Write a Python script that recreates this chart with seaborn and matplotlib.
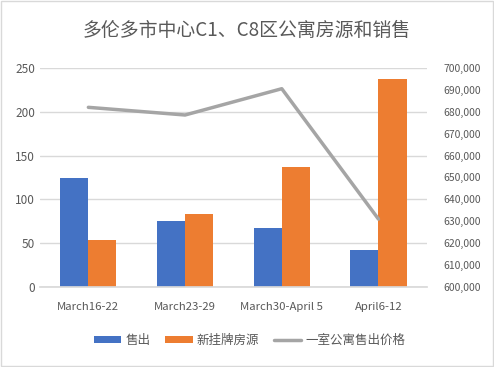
import matplotlib
matplotlib.use("Agg")
import matplotlib.pyplot as plt
import seaborn as sns
import pandas as pd
from matplotlib.ticker import FuncFormatter, MultipleLocator
from matplotlib.lines import Line2D
from matplotlib.patches import Patch

categories = ["March16-22", "March23-29", "March30-April 5", "April6-12"]
sold = [124, 75, 67, 42]
new_listings = [54, 83, 137, 237]
price = [682000, 678500, 690500, 631000]
series_names = ["售出", "新挂牌房源", "一室公寓售出价格"]

sns.set_theme(style="white")
plt.rcParams['font.family'] = ['Noto Sans CJK SC', 'DejaVu Sans']

blue = "#4472C4"
orange = "#ED7D31"
gray_line = "#A5A5A5"
text_col = "#595959"

df = pd.DataFrame({
    "week": categories * 2,
    "value": sold + new_listings,
    "series": [series_names[0]] * 4 + [series_names[1]] * 4,
})

fig = plt.figure(figsize=(4.94, 3.67), dpi=100)
ax = fig.add_axes([0.081, 0.218, 0.783, 0.597])
sns.barplot(data=df, x="week", y="value", hue="series", order=categories,
            palette=[blue, orange], width=0.58, ax=ax, legend=False,
            edgecolor="none", linewidth=0, saturation=1)
ax.set_ylim(0, 250)
ax.set_xlim(-0.5, 3.5)
ax.yaxis.set_major_locator(MultipleLocator(50))
ax.grid(axis="y", color="#D9D9D9", linewidth=1)
ax.set_axisbelow(True)
ax.set_xlabel("")
ax.set_ylabel("")
for s in ["top", "right", "left"]:
    ax.spines[s].set_visible(False)
ax.spines["bottom"].set_color("#D9D9D9")
ax.tick_params(axis="y", colors=text_col, labelsize=8.5, length=0)
ax.tick_params(axis="x", colors=text_col, labelsize=8.2, length=0, pad=11)

ax2 = ax.twinx()
sns.lineplot(x=list(range(4)), y=price, ax=ax2, color=gray_line, linewidth=2.5)
ax2.set_ylim(600000, 700000)
ax2.yaxis.set_major_locator(MultipleLocator(10000))
ax2.yaxis.set_major_formatter(FuncFormatter(lambda v, p: f"{int(v):,}"))
ax2.tick_params(axis="y", colors=text_col, labelsize=7.5, length=0, pad=12)
for s in ["top", "right", "left", "bottom"]:
    ax2.spines[s].set_visible(False)
ax2.grid(False)
ax2.set_ylabel("")

fig.text(0.5, 0.918, "多伦多市中心C1、C8区公寓房源和销售", ha="center", va="center",
         fontsize=13.6, color=text_col)

handles = [Patch(facecolor=blue, edgecolor="none"),
           Patch(facecolor=orange, edgecolor="none"),
           Line2D([0], [0], color=gray_line, linewidth=2.5)]
fig.legend(handles, series_names, loc="center", bbox_to_anchor=(0.505, 0.072), ncol=3,
           frameon=False, fontsize=9, labelcolor=text_col, handlelength=2.2,
           handleheight=0.5, columnspacing=1.2, handletextpad=0.3)

border = plt.Rectangle((0.002, 0.002), 0.996, 0.996, transform=fig.transFigure,
                       fill=False, edgecolor="#D9D9D9", linewidth=1)
fig.add_artist(border)

fig.savefig("out.png", dpi=100)
